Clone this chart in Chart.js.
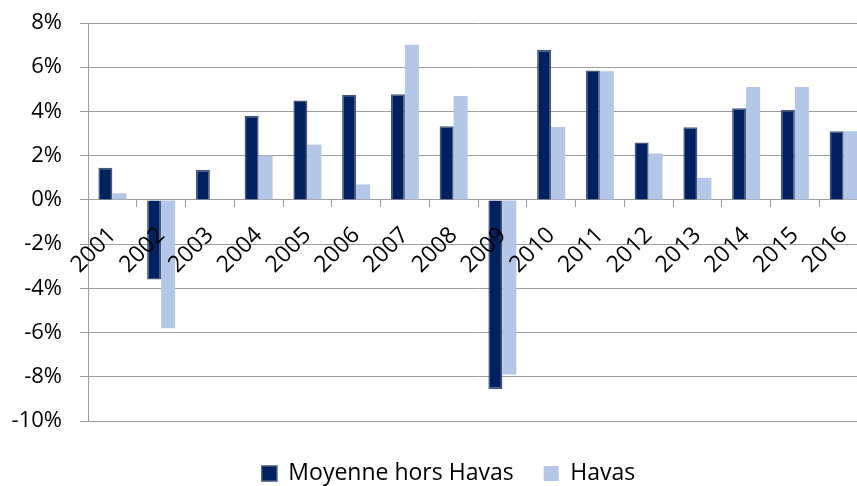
<!DOCTYPE html>
<html>
<head>
<meta charset="utf-8">
<script src="https://cdn.jsdelivr.net/npm/chart.js@4/dist/chart.umd.min.js"></script>
<style>
  html, body { margin: 0; padding: 0; background: #fff; overflow: hidden; }
  #wrap { width: 897px; height: 495px; }
</style>
</head>
<body>
<div id="wrap"><canvas id="myChart" width="897" height="495"></canvas></div>
<script>
// years on the x axis
const years = ['2001', '2002', '2003', '2004', '2005', '2006', '2007', '2008',
               '2009', '2010', '2011', '2012', '2013', '2014', '2015', '2016'];

// growth in %
const moyenneHorsHavas = [1.45, -3.6, 1.35, 3.8, 4.5, 4.75, 4.78, 3.33,
                          -8.55, 6.78, 5.85, 2.6, 3.28, 4.15, 4.07, 3.1];
const havas = [0.3, -5.8, 0, 2.0, 2.5, 0.7, 7.02, 4.7,
               -7.9, 3.3, 5.82, 2.1, 1.0, 5.1, 5.1, 3.1];

const yTicks = [-10, -8, -6, -4, -2, 0, 2, 4, 6, 8];

const seriesNames = ['Moyenne hors Havas', 'Havas'];

const gridGrey = '#9c9c9c';
const font = { family: '"Open Sans", sans-serif', size: 22 };

let chart = new Chart(document.getElementById('myChart'), {
    type: 'bar',
    data: {
        labels: years,
        datasets: [{
            label: seriesNames[0],
            data: moyenneHorsHavas,
            backgroundColor: '#002060',
            borderColor: '#44587c',
            borderWidth: 1.5
        }, {
            label: seriesNames[1],
            data: havas,
            backgroundColor: '#b4c7e7',
            borderWidth: 0
        }]
    },
    options: {
        responsive: false,
        animation: false,
        devicePixelRatio: 1,
        categoryPercentage: 0.575,
        barPercentage: 1,
        layout: {
            padding: { left: 0, right: 0, top: 23, bottom: 0 }
        },
        plugins: {
            tooltip: { enabled: false },
            legend: {
                position: 'bottom',
                labels: {
                    font: { family: font.family, size: 23 },
                    color: '#000',
                    boxWidth: 15,
                    boxHeight: 15,
                    padding: 30
                }
            }
        },
        scales: {
            x: {
                position: { y: 0 },
                offset: true,
                grid: {
                    offset: true,
                    drawOnChartArea: false,
                    color: gridGrey,
                    tickLength: 7
                },
                border: { display: true, color: gridGrey },
                ticks: {
                    z: 1, // year labels sit on top of the bars
                    font: { family: font.family, size: 23 },
                    color: '#000',
                    minRotation: 45,
                    maxRotation: 45,
                    autoSkip: false,
                    padding: 15
                },
                // plot ends at x=868, past the right edge of the window
                afterFit: (scale) => {
                    scale.paddingLeft = 0;
                    scale.paddingRight = 29;
                }
            },
            y: {
                min: -10,
                max: 8,
                afterBuildTicks: (scale) => {
                    scale.ticks = yTicks.map(v => ({ value: v }));
                },
                afterFit: (scale) => {
                    scale.width = 88;
                    scale.paddingTop = 0;
                    scale.paddingBottom = 0;
                },
                grid: { color: gridGrey, tickLength: 8 },
                border: { display: true, color: gridGrey },
                ticks: {
                    font: font,
                    color: '#000',
                    padding: 18,
                    callback: (v) => v + '%'
                }
            },
            // empty axis, only keeps a gap between the plot and the legend
            gap: {
                type: 'linear',
                position: 'bottom',
                grid: { display: false, drawTicks: false },
                border: { display: false },
                ticks: { display: false },
                afterFit: (scale) => { scale.height = 11; }
            }
        }
    }
});
</script>
</body>
</html>
